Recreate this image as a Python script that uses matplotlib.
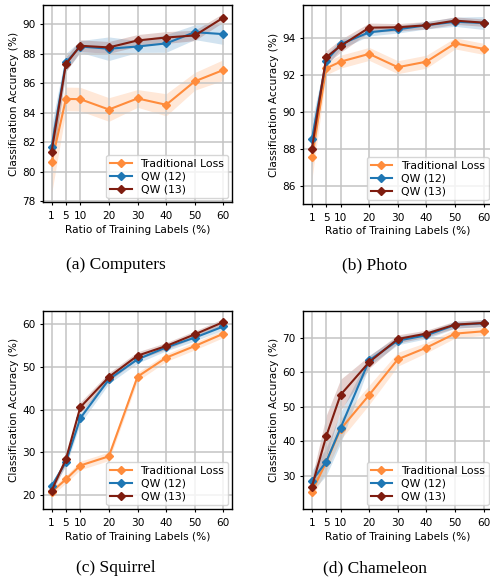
import numpy as np
import matplotlib
matplotlib.use('Agg')
import matplotlib.pyplot as plt

# x positions (first ratio drawn at 0, labelled "1")
x_pos = [0, 5, 10, 20, 30, 40, 50, 60]
x_labels = ['1', '5', '10', '20', '30', '40', '50', '60']

series_names = ['Traditional Loss', 'QW (12)', 'QW (13)']
colors = ['#ff8c3c', '#1f77b4', '#7f1d10']

# Computers
comp_trad = [80.63, 84.94, 84.92, 84.22, 84.97, 84.54, 86.13, 86.90]
comp_trad_sd = [2.1, 0.8, 0.8, 0.8, 0.6, 0.75, 0.6, 0.7]
comp_qw12 = [81.69, 87.42, 88.49, 88.34, 88.49, 88.70, 89.46, 89.33]
comp_qw12_sd = [1.5, 0.6, 0.4, 0.8, 0.4, 0.6, 0.5, 0.7]
comp_qw13 = [81.37, 87.30, 88.54, 88.43, 88.90, 89.10, 89.24, 90.45]
comp_qw13_sd = [1.2, 0.5, 0.4, 0.4, 0.4, 0.4, 0.35, 0.3]

# Photo
photo_trad = [87.53, 92.34, 92.70, 93.12, 92.40, 92.70, 93.69, 93.39]
photo_trad_sd = [1.2, 0.35, 0.35, 0.35, 0.35, 0.35, 0.3, 0.3]
photo_qw12 = [88.50, 92.74, 93.64, 94.29, 94.45, 94.67, 94.86, 94.79]
photo_qw12_sd = [1.0, 0.3, 0.25, 0.2, 0.2, 0.2, 0.25, 0.35]
photo_qw13 = [87.98, 92.94, 93.55, 94.54, 94.56, 94.67, 94.92, 94.81]
photo_qw13_sd = [1.0, 0.35, 0.35, 0.25, 0.2, 0.2, 0.2, 0.2]

# Squirrel
squ_trad = [20.70, 23.67, 26.90, 29.06, 47.73, 52.19, 54.92, 57.81]
squ_trad_sd = [0.9, 0.9, 1.0, 1.0, 1.0, 0.9, 0.9, 0.9]
squ_qw12 = [22.10, 27.70, 37.97, 47.10, 51.80, 54.60, 56.90, 59.50]
squ_qw12_sd = [0.8, 1.0, 1.2, 1.0, 0.9, 0.8, 0.8, 0.8]
squ_qw13 = [21.00, 28.40, 40.55, 47.66, 52.66, 54.92, 57.66, 60.55]
squ_qw13_sd = [0.8, 1.0, 1.2, 1.0, 0.9, 0.8, 0.8, 0.8]

# Chameleon
cham_trad = [25.36, 33.86, 43.43, 53.38, 63.72, 67.10, 71.16, 71.84]
cham_trad_sd = [1.8, 2.5, 3.0, 2.8, 2.0, 1.5, 1.3, 1.2]
cham_qw12 = [28.45, 34.00, 43.80, 63.40, 69.13, 70.68, 73.67, 74.15]
cham_qw12_sd = [3.0, 4.0, 4.5, 1.5, 1.2, 1.0, 1.0, 1.0]
cham_qw13 = [26.80, 41.40, 53.40, 62.90, 69.60, 71.16, 73.77, 74.25]
cham_qw13_sd = [2.5, 6.0, 4.5, 1.8, 1.2, 1.0, 1.0, 1.0]

panels = [
    ('(a) Computers', [comp_trad, comp_qw12, comp_qw13],
     [comp_trad_sd, comp_qw12_sd, comp_qw13_sd], [78, 80, 82, 84, 86, 88, 90], (77.95, 91.3)),
    ('(b) Photo', [photo_trad, photo_qw12, photo_qw13],
     [photo_trad_sd, photo_qw12_sd, photo_qw13_sd], [86, 88, 90, 92, 94], (85.0, 95.75)),
    ('(c) Squirrel', [squ_trad, squ_qw12, squ_qw13],
     [squ_trad_sd, squ_qw12_sd, squ_qw13_sd], [20, 30, 40, 50, 60], (16.7, 63.2)),
    ('(d) Chameleon', [cham_trad, cham_qw12, cham_qw13],
     [cham_trad_sd, cham_qw12_sd, cham_qw13_sd], [30, 40, 50, 60, 70], (20.3, 77.8)),
]

# axes rectangles in figure fractions, caption centres
rects = [
    [0.0878, 0.6523, 0.3857, 0.3390],
    [0.6190, 0.6489, 0.3857, 0.3420],
    [0.0878, 0.1239, 0.3857, 0.3413],
    [0.6190, 0.1239, 0.3857, 0.3413],
]
caps = [(0.236, 1 - 265 / 581), (0.764, 1 - 265 / 581),
        (0.237, 1 - 568 / 581), (0.765, 1 - 568 / 581)]

fig = plt.figure(figsize=(4.9, 5.81), dpi=100)

for (cap, ys, sds, yticks, ylim), rect, cpos in zip(panels, rects, caps):
    ax = fig.add_axes(rect)
    for name, col, y, sd in zip(series_names, colors, ys, sds):
        y = np.array(y)
        sd = np.array(sd)
        ax.fill_between(x_pos, y - sd, y + sd, color=col, alpha=0.2, lw=0)
        ax.plot(x_pos, y, '-', marker='D', color=col, lw=1.5, ms=4.2, label=name)
    ax.set_xticks(x_pos)
    ax.set_xticklabels(x_labels)
    ax.set_yticks(yticks)
    ax.set_ylim(*ylim)
    ax.set_xlim(-3, 63)
    ax.grid(True, color='#c4c4c4', lw=1.3, alpha=0.85)
    ax.tick_params(labelsize=7.6, length=2.5, width=0.8, pad=3)
    ax.tick_params(axis='x', pad=4)
    ax.set_xlabel('Ratio of Training Labels (%)', fontsize=7.6, labelpad=2.5)
    ax.set_ylabel('Classification Accuracy (%)', fontsize=7.6, labelpad=2)
    for sp in ax.spines.values():
        sp.set_linewidth(1.0)
    ax.legend(loc='lower right', fontsize=7.8, handlelength=2.0, borderpad=0.35,
              labelspacing=0.25, borderaxespad=0.35, framealpha=0.8)
    fig.text(cpos[0], cpos[1], cap, ha='center', va='center',
             fontsize=12.5, family='Liberation Serif')

fig.savefig('out.png', dpi=100)
